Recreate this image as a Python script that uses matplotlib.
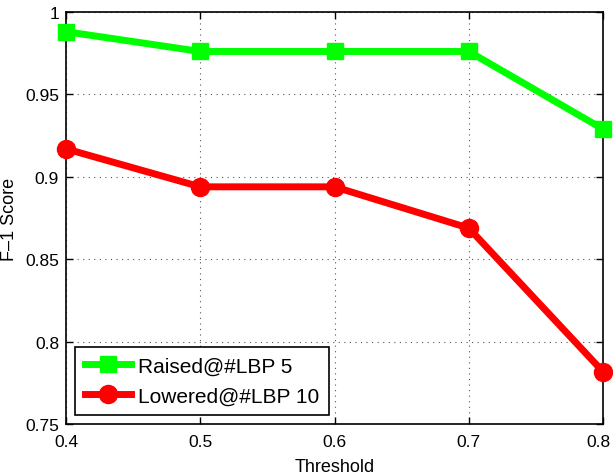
import matplotlib
matplotlib.use('Agg')
import matplotlib.pyplot as plt
import matplotlib.transforms as mtransforms

plt.rcParams['font.family'] = ['Liberation Sans', 'DejaVu Sans']

thresholds = [0.4, 0.5, 0.6, 0.7, 0.8]
raised = [0.988, 0.976, 0.976, 0.976, 0.929]
lowered = [0.917, 0.894, 0.894, 0.869, 0.782]
xticks = [0.4, 0.5, 0.6, 0.7, 0.8]
yticks = [0.75, 0.8, 0.85, 0.9, 0.95, 1.0]
ytick_labels = ['0.75', '0.8', '0.85', '0.9', '0.95', '1']

fig = plt.figure(figsize=(6.13, 4.77), dpi=100)
ax = fig.add_axes([0.1077, 0.108, 0.876, 0.865])

ax.plot(thresholds, raised, color='#00ff00', lw=5, marker='s', ms=12,
        clip_on=False, zorder=3, label='Raised@#LBP 5')
ax.plot(thresholds, lowered, color='#ff0000', lw=5, marker='o', ms=13,
        clip_on=False, zorder=3, label='Lowered@#LBP 10')

ax.set_xlim(0.4, 0.8)
ax.set_ylim(0.75, 1.0)
ax.set_xticks(xticks)
ax.set_xticklabels(['0.4', '0.5', '0.6', '0.7', '0.8'])
ax.set_yticks(yticks)
ax.set_yticklabels(ytick_labels)
ax.tick_params(direction='in', top=True, right=True, labelsize=12.5, length=5, width=1)
ax.tick_params(axis='x', pad=7)
ax.tick_params(axis='y', pad=5)
ax.grid(True, linestyle=(0, (1, 4)), color='#555555', lw=0.8)
for s in ax.spines.values():
    s.set_linewidth(1.2)

# nudge the last x label so it stays inside the figure
last = ax.get_xticklabels()[-1]
last.set_transform(last.get_transform() +
                   mtransforms.ScaledTranslation(-3 / 72, 0, fig.dpi_scale_trans))

ax.set_xlabel('Threshold', fontsize=13, labelpad=6)
ax.set_ylabel('F\u20131 Score', fontsize=13)
ax.yaxis.set_label_coords(-0.09, 0.5)

leg = ax.legend(loc='lower left', fontsize=15, fancybox=False, framealpha=1,
                edgecolor='black', borderaxespad=0.45, handlelength=2.2,
                labelspacing=0.55, borderpad=0.45, handletextpad=0.35)
leg.get_frame().set_linewidth(1.2)

fig.savefig('out.png', dpi=100)
